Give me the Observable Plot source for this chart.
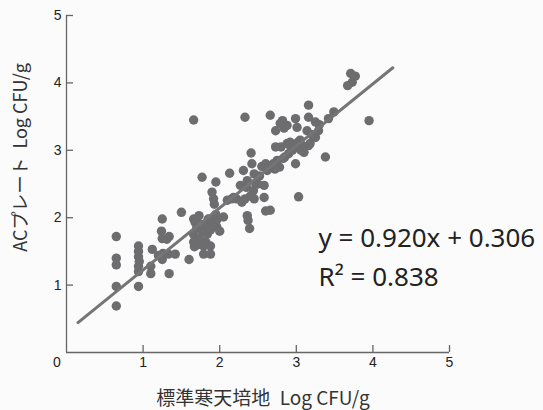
<!DOCTYPE html>
<html>
<head>
<meta charset="utf-8">
<script src="https://cdn.jsdelivr.net/npm/d3@7"></script>
<script src="https://cdn.jsdelivr.net/npm/@observablehq/plot@0.6"></script>
<style>
  html, body { margin: 0; padding: 0; background: #fbfbfb; }
  #chart svg { display: block; }
</style>
</head>
<body>
<div id="chart"></div>
<script>
// 標準寒天培地 (x) vs ACプレート (y), Log CFU/g
const agarLog = [
  0.65,0.65,0.65,0.65,0.65, 0.94,0.94,0.94,0.95,0.94,0.94,0.94,
  1.12,1.10,1.10, 1.25,1.24,1.25,1.26,1.25, 1.34,1.33,1.34,1.31, 1.42, 1.50, 1.60,
  1.66,1.66,1.68,1.66,1.66,1.67, 1.73,1.75,1.77,1.74, 1.77, 1.79,1.79, 1.82,1.84,
  1.88,1.88,1.88,1.88, 1.90,1.92,1.93, 1.95,1.97,1.96, 2.00, 2.05, 2.13,2.10,2.18,
  2.27,2.29,2.31, 2.33, 2.36,2.37,2.39, 2.36,2.41,2.42,2.44,2.40,2.45,2.47,
  2.55,2.58,2.58,2.60,2.63,2.60,2.66, 2.66, 2.72,2.75,2.73,2.73,2.80,2.78,2.82,2.85,2.88,2.88,
  2.92,2.95,2.99,2.99,3.01,3.00,3.03,3.05,3.08,3.10, 3.14,3.16,3.16,3.16,3.18,3.25,3.25,3.29,
  3.38,3.42,3.49, 3.67,3.71,3.73,3.77, 3.95,
  1.20,1.70,1.82,1.93,2.22,2.33,2.45,2.50,2.52,2.70,2.83,2.90,2.93,3.02,3.06,2.84,3.20,3.30,
  2.79,2.35,2.62,1.85,1.95,1.72,2.16
];
const acPlateLog = [
  1.72,1.40,1.30,0.98,0.69, 1.58,1.50,1.42,1.35,1.28,1.20,0.98,
  1.53,1.28,1.17, 1.98,1.80,1.69,1.47,1.38, 1.72,1.46,1.17,1.68, 1.46, 2.08, 1.38,
  3.45,1.98,1.93,1.75,1.64,1.57, 2.03,1.90,1.80,1.69, 2.60, 1.58,1.46, 1.88,1.76,
  1.95,1.82,1.58,1.46, 2.38,2.28,2.20, 2.53,1.98,1.87, 1.80, 2.01, 2.66,2.26,2.30,
  2.48,2.23,2.70, 3.49, 2.03,1.96,1.84, 2.55,2.96,2.80,2.40,2.32,2.65,2.50,
  2.76,2.48,2.30,2.80,2.77,2.10,2.11, 3.52, 2.72,2.85,3.05,3.29,3.05,2.75,3.44,2.90,3.37,3.10,
  3.12,3.00,2.80,3.47,3.34,3.05,2.31,3.15,3.07,2.97, 3.29,3.67,3.49,3.07,3.10,3.42,3.19,3.29,
  2.90,3.47,3.57, 3.96,4.14,4.01,4.10, 3.44,
  1.44,1.85,1.64,1.92,2.28,2.28,2.28,2.50,2.62,2.80,2.88,2.95,3.05,3.12,3.00,3.33,3.23,3.38,
  3.40,2.45,2.70,1.98,2.05,1.60,2.28
];
const xTicks = [1, 2, 3, 4, 5];
const yTicks = [1, 2, 3, 4, 5];
const origin = [0];
const slope = 0.920;
const intercept = 0.306;
const r2 = 0.838;
const fitRange = [0.15, 4.26];
const xTitle = "標準寒天培地\u2002Log CFU/g";
const yTitle = "ACプレート\u2002Log CFU/g";

const points = agarLog.map((x, i) => ({x, y: acPlateLog[i]}));
const fit = fitRange.map(x => ({x, y: slope * x + intercept}));
const eqText = `y = ${slope.toFixed(3)}x + ${intercept.toFixed(3)}\nR² = ${r2.toFixed(3)}`;

const axisColor = "#666";
const tickFont = "Liberation Sans, Arial, sans-serif";
const cjkFont = "Noto Sans CJK JP, sans-serif";
const fmt = d => String(d);

const chart = Plot.plot({
  width: 543,
  height: 410,
  marginLeft: 66,
  marginRight: 94,
  marginTop: 15,
  marginBottom: 58,
  style: {background: "transparent", color: "#333"},
  x: {domain: [0, 5]},
  y: {domain: [0, 5]},
  marks: [
    Plot.ruleY(origin, {y: d => d, stroke: axisColor, strokeWidth: 1.3}),
    Plot.ruleX(origin, {x: d => d, stroke: axisColor, strokeWidth: 1.3}),
    Plot.ruleX(xTicks, {x: d => d, y1: 0, y2: 0, insetBottom: 7, stroke: axisColor, strokeWidth: 1.3}),
    Plot.ruleY(yTicks, {y: d => d, x1: 0, x2: 0, insetRight: -7, stroke: axisColor, strokeWidth: 1.3}),
    Plot.axisX(xTicks, {tickSize: 0, tickPadding: 5, tickFormat: fmt, fontSize: 14, fontFamily: tickFont, fill: "#222", label: null}),
    Plot.axisY(yTicks, {tickSize: 0, tickPadding: 5, tickFormat: fmt, fontSize: 14, fontFamily: tickFont, fill: "#222", label: null}),
    Plot.text(origin, {x: d => d, y: d => d, text: fmt, dx: -9.5, dy: 5, lineAnchor: "top",
      fontSize: 14, fontFamily: tickFont, fill: "#222"}),
    Plot.dot(points, {x: "x", y: "y", r: 4.7, fill: "#6d6d6f", stroke: "none"}),
    Plot.line(fit, {x: "x", y: "y", stroke: "#757575", strokeWidth: 3}),
    Plot.text([eqText], {x: 3.29, y: 0.994, text: d => d, textAnchor: "start", lineAnchor: "bottom",
      lineHeight: 1.47, fontSize: 26, fontFamily: "Noto Sans, sans-serif", fill: "#222"}),
    Plot.text([xTitle], {frameAnchor: "bottom", text: d => d, dx: 5, dy: 46, lineAnchor: "middle",
      fontSize: 19, fontFamily: cjkFont, fill: "#333"}),
    Plot.text([yTitle], {frameAnchor: "left", text: d => d, dx: -45.5, dy: -26.5, rotate: -90,
      textAnchor: "middle", lineAnchor: "middle",
      fontSize: 18, fontFamily: cjkFont, fill: "#333"})
  ]
});
document.getElementById("chart").append(chart);
</script>
</body>
</html>
